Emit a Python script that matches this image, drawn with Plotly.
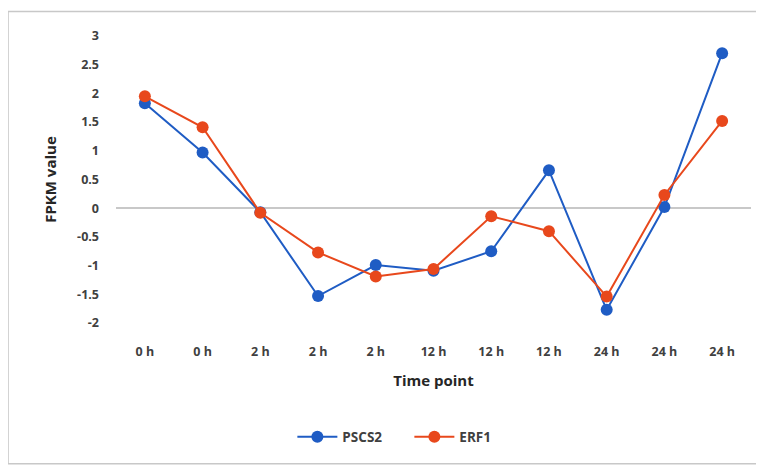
import plotly.graph_objects as go

time_labels = ["0 h", "0 h", "2 h", "2 h", "2 h", "12 h", "12 h", "12 h", "24 h", "24 h", "24 h"]
pscs2 = [1.83, 0.97, -0.07, -1.53, -0.99, -1.09, -0.75, 0.66, -1.77, 0.02, 2.70]
erf1 = [1.95, 1.41, -0.08, -0.77, -1.19, -1.06, -0.14, -0.40, -1.54, 0.23, 1.52]
y_ticks = [3, 2.5, 2, 1.5, 1, 0.5, 0, -0.5, -1, -1.5, -2]

BLUE = "#1f5cc4"
RED = "#e8481c"
FONT = "Open Sans"

x_pos = list(range(len(time_labels)))

fig = go.Figure()
fig.add_trace(go.Scatter(
    x=x_pos, y=pscs2, name="PSCS2", mode="lines+markers",
    line=dict(color=BLUE, width=2), marker=dict(color=BLUE, size=12),
))
fig.add_trace(go.Scatter(
    x=x_pos, y=erf1, name="ERF1", mode="lines+markers",
    line=dict(color=RED, width=2), marker=dict(color=RED, size=12),
))

fig.update_layout(
    width=756, height=458,
    margin=dict(l=108, r=13, t=27.5, b=143),
    paper_bgcolor="white", plot_bgcolor="white",
    font=dict(family=FONT, color="#404040", size=12),
    showlegend=True,
    legend=dict(orientation="h", x=0.462, y=-0.397, xanchor="center", yanchor="middle",
                entrywidth=62, itemwidth=40,
                font=dict(family=FONT, size=13.5, color="#404040", weight="bold")),
    xaxis=dict(
        range=[-0.5, len(time_labels) - 0.5],
        tickmode="array", tickvals=x_pos, ticktext=time_labels,
        showgrid=False, zeroline=False, showline=False,
        ticks="", ticklabelstandoff=19,
        tickfont=dict(family=FONT, size=12.5, color="#404040", weight="bold"),
        title=dict(text="Time point", standoff=16,
                   font=dict(family=FONT, size=15, color="#262626", weight="bold")),
    ),
    yaxis=dict(
        range=[-2, 3],
        tickmode="array", tickvals=y_ticks, ticktext=[str(v) for v in y_ticks],
        showgrid=False, showline=False, ticks="",
        zeroline=True, zerolinecolor="#c8c8c8", zerolinewidth=1.5,
        ticklabelstandoff=16,
        tickfont=dict(family=FONT, size=12.5, color="#404040", weight="bold"),
        title=dict(text="FPKM value", standoff=16,
                   font=dict(family=FONT, size=15, color="#262626", weight="bold")),
    ),
    shapes=[dict(type="rect", xref="paper", yref="paper",
                 x0=-0.170, x1=1.05, y0=-0.490, y1=1.085,
                 line=dict(color="#c8c8c8", width=1.5), fillcolor="rgba(0,0,0,0)", layer="below")],
)

fig.write_html("out.html")
